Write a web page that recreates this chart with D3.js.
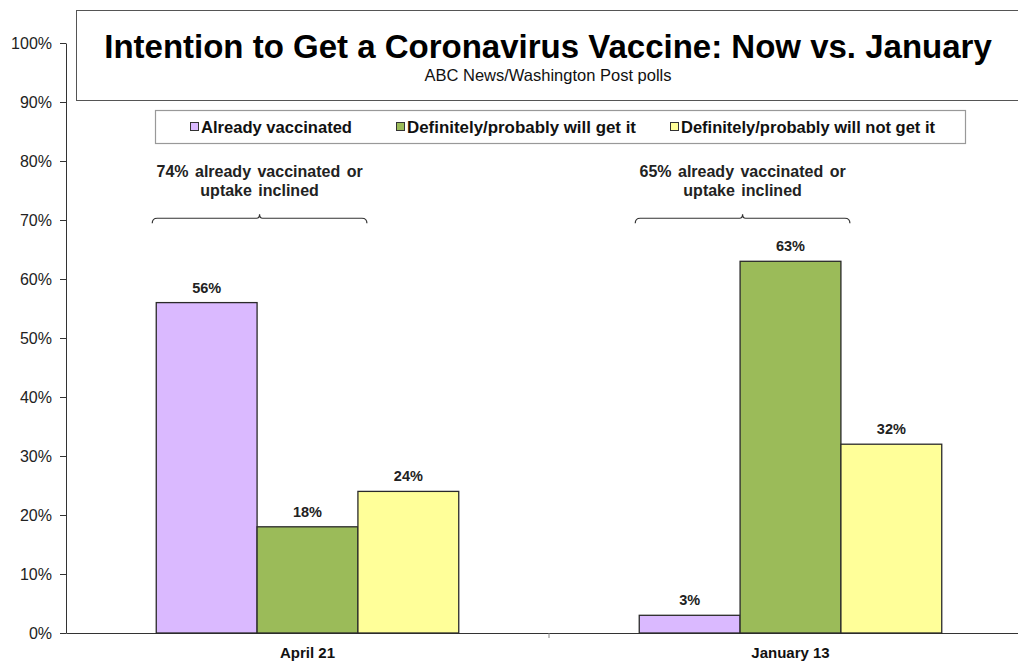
<!DOCTYPE html>
<html><head><meta charset="utf-8">
<script src="https://cdn.jsdelivr.net/npm/d3@7"></script>
<style>body{margin:0;background:#fff;}svg{display:block;font-family:"Liberation Sans",Arial,sans-serif;}</style>
</head><body>
<svg id="c" width="1018" height="662"></svg>
<script>
const categories = ["April 21", "January 13"];
const seriesNames = ["Already vaccinated", "Definitely/probably will get it", "Definitely/probably will not get it"];
const alreadyVaccinated = [56, 3];
const willGet = [18, 63];
const willNotGet = [24, 32];
const seriesColors = ["#DAB9FF", "#9BBB59", "#FFFF99"];
const yTicks = [0, 10, 20, 30, 40, 50, 60, 70, 80, 90, 100];
const annotations = ["74% already vaccinated or|uptake inclined", "65% already vaccinated or|uptake inclined"];
const title = "Intention to Get a Coronavirus Vaccine: Now vs. January";
const subtitle = "ABC News/Washington Post polls";

(function () {
const values = [alreadyVaccinated, willGet, willNotGet];
const svg = d3.select("#c");
const pL = 66, pR = 1032, pT = 43, pB = 633;

const y = d3.scaleLinear().domain([0, 100]).range([pB, pT]);
const x0 = d3.scaleBand().domain(categories).range([pL, pR]).padding(0);
const x1 = d3.scaleBand().domain(seriesNames).range([0, x0.bandwidth()]).paddingInner(0).paddingOuter(0.895);

// Y axis
const yAxis = d3.axisLeft(y).tickValues(yTicks).tickFormat(d => d + "%").tickSize(6).tickSizeOuter(0);
const gy = svg.append("g").attr("transform", `translate(${pL},0)`).call(yAxis);
gy.select(".domain").attr("stroke", "#333");
gy.selectAll(".tick line").attr("stroke", "#333");
gy.selectAll(".tick text").attr("font-size", 16).attr("fill", "#222").attr("x", -14).attr("font-family", "Liberation Sans, Arial, sans-serif");

// X axis
const xAxis = d3.axisBottom(x0).tickSize(0).tickSizeOuter(0);
const gx = svg.append("g").attr("transform", `translate(0,${pB})`).call(xAxis);
gx.select(".domain").attr("stroke", "#333");
gx.selectAll(".tick text").attr("font-size", 15).attr("font-weight", "bold").attr("fill", "#111").attr("dy", 0).attr("y", 25).attr("font-family", "Liberation Sans, Arial, sans-serif");
svg.append("g").selectAll("line").data(categories.slice(1)).join("line")
  .attr("x1", d => x0(d)).attr("x2", d => x0(d)).attr("y1", pB).attr("y2", pB + 5).attr("stroke", "#888");

// Bars
const groups = svg.append("g").selectAll("g").data(categories).join("g")
  .attr("transform", d => `translate(${x0(d)},0)`);
groups.each(function(cat, ci) {
  const g = d3.select(this);
  seriesNames.forEach((s, si) => {
    const v = values[si][ci];
    g.append("rect").attr("x", x1(s)).attr("width", x1.bandwidth())
      .attr("y", y(v)).attr("height", y(0) - y(v))
      .attr("fill", seriesColors[si]).attr("stroke", "#2a2a2a").attr("stroke-width", 1.3);
    g.append("text").attr("x", x1(s) + x1.bandwidth() / 2).attr("y", y(v) - 10)
      .attr("text-anchor", "middle").attr("font-size", 14.5).attr("font-weight", "bold").attr("fill", "#222")
      .text(v + "%");
  });
});

// Annotations with brackets
categories.forEach((cat, ci) => {
  const bx0 = x0(cat) + x1(seriesNames[0]) - 4;
  const bx1 = x0(cat) + x1(seriesNames[1]) + x1.bandwidth() + 9;
  const cx = (bx0 + bx1) / 2;
  const by = y(70.3);
  const lines = annotations[ci].split("|");
  const t = svg.append("text").attr("text-anchor", "middle").attr("font-size", 16).attr("font-weight", "bold")
    .attr("fill", "#222").attr("word-spacing", 2);
  lines.forEach((l, i) => t.append("tspan").attr("x", cx).attr("y", y(77.3) + i * 19).text(l));
  const p = d3.path();
  p.moveTo(bx0, by + 5); p.quadraticCurveTo(bx0, by, bx0 + 5, by);
  p.lineTo(cx - 3, by); p.quadraticCurveTo(cx, by, cx, by - 4);
  p.quadraticCurveTo(cx, by, cx + 3, by);
  p.lineTo(bx1 - 5, by); p.quadraticCurveTo(bx1, by, bx1, by + 5);
  svg.append("path").attr("d", p.toString()).attr("fill", "none").attr("stroke", "#333").attr("stroke-width", 1.2);
});

// Title box
svg.append("rect").attr("x", 76.5).attr("y", 10.5).attr("width", 1000).attr("height", 90)
  .attr("fill", "#fff").attr("stroke", "#555").attr("stroke-width", 1);
svg.append("text").attr("x", 548).attr("y", 58).attr("text-anchor", "middle")
  .attr("font-size", 33).attr("font-weight", "bold").attr("fill", "#000").text(title);
svg.append("text").attr("x", 548).attr("y", 81).attr("text-anchor", "middle")
  .attr("font-size", 16.5).attr("fill", "#111").text(subtitle);

// Legend
svg.append("rect").attr("x", 155.5).attr("y", 110.5).attr("width", 810).attr("height", 33)
  .attr("fill", "#fff").attr("stroke", "#999").attr("stroke-width", 1.2);
const legendX = [191, 397, 671];
const legendW = [151, 229, 254];
seriesNames.forEach((s, i) => {
  svg.append("rect").attr("x", legendX[i] - 0.5).attr("y", 122.5).attr("width", 8).attr("height", 8)
    .attr("fill", seriesColors[i]).attr("stroke", "#333").attr("stroke-width", 1);
  svg.append("text").attr("x", legendX[i] + 10).attr("y", 133).attr("font-size", 16).attr("font-weight", "bold")
    .attr("fill", "#111").attr("textLength", legendW[i]).attr("lengthAdjust", "spacingAndGlyphs").text(s);
});
})();
</script>
</body></html>
